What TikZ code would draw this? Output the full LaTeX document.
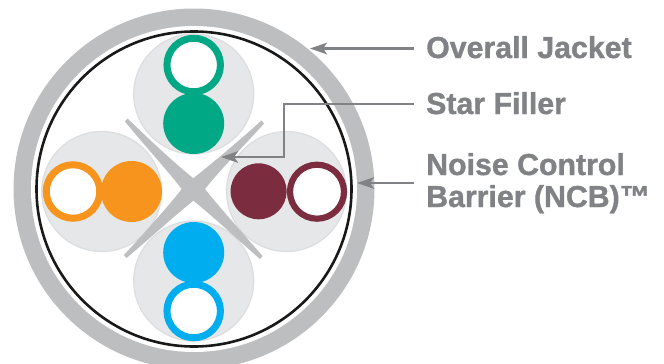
\documentclass[tikz,border=0pt]{standalone}
\usepackage{fontspec}
\setmainfont[BoldFeatures={FakeBold=1.2}]{Liberation Sans}
\usetikzlibrary{arrows.meta,calc}
\definecolor{jacketgrey}{HTML}{BCBEC0}
\definecolor{padfill}{HTML}{E6E7E8}
\definecolor{padedge}{HTML}{DCDDDE}
\definecolor{leadgrey}{HTML}{808285}
\definecolor{cgreen}{HTML}{00A886}
\definecolor{corange}{HTML}{F7941D}
\definecolor{cmaroon}{HTML}{7B2D3F}
\definecolor{cblue}{HTML}{00AEEF}
\tikzset{
  pad/.style={circle,minimum size=120pt,inner sep=0pt,fill=padfill,draw=padedge,line width=1.2pt},
  solidcore/.style={circle,minimum size=61pt,inner sep=0pt,fill=#1},
  ringcore/.style={circle,minimum size=53.5pt,inner sep=0pt,fill=white,draw=#1,line width=7pt},
  labeltext/.style={anchor=base west,inner sep=0pt,text=leadgrey,align=left,
    font=\fontsize{30.3pt}{32pt}\selectfont\bfseries},
  leader/.style={draw=leadgrey,line width=2.6pt,-{Stealth[length=17pt,width=11.5pt,inset=4pt]}}
}
\begin{document}
\begin{tikzpicture}[x=1pt,y=-1pt]
\useasboundingbox (0,0) rectangle (664,364);
\begin{scope}
\clip (0,0) rectangle (664,364);
% jacket
\fill[jacketgrey] (194,189) circle[radius=180.5pt];
\fill[white] (194,189) circle[radius=163pt];
\draw[black!90,line width=2.6pt] (194,189) circle[radius=157.5pt];
% pads
\node[pad] (padT) at (193.7,94) {};
\node[pad] (padL) at (101.7,191.5) {};
\node[pad] (padR) at (286.5,191.5) {};
\node[pad] (padB) at (193.7,281) {};
% star filler
\fill[jacketgrey] (125,121.5) -- (127.5,118.5)
  .. controls (150,140) and (172,161) .. (193.3,178.3)
  .. controls (215,161) and (240,140) .. (261.5,120.5) -- (264,123.5)
  .. controls (243,147) and (220,170) .. (205,189)
  .. controls (220,208) and (242,232) .. (262.5,256) -- (260,259)
  .. controls (238,240) and (215,218) .. (193.3,200.7)
  .. controls (172,218) and (148,240) .. (126.5,258) -- (124,255)
  .. controls (145,232) and (167,208) .. (181.7,189)
  .. controls (167,170) and (145,146) .. (125,121.5) -- cycle;
% conductors
\node[ringcore=cgreen] (ringT) at (193.7,65) {};
\node[solidcore=cgreen] (solidT) at (193.7,123.5) {};
\node[ringcore=corange] (ringL) at (73,191.5) {};
\node[solidcore=corange] (solidL) at (131.5,191.5) {};
\node[solidcore=cmaroon,minimum size=56pt] (solidR) at (258.6,191.3) {};
\node[ringcore=cmaroon,minimum size=54pt,line width=6.2pt] (ringR) at (317,191.7) {};
\node[solidcore=cblue] (solidB) at (193.7,252.5) {};
\node[ringcore=cblue] (ringB) at (193.7,311) {};
\end{scope}
% labels
\node[labeltext] (labJ) at (426,58) {Overall Jacket};
\node[labeltext] (labS) at (426,114) {Star Filler};
\node[labeltext] (labN) at (426,207) {Noise Control\\Barrier (NCB)™};
% leaders
\coordinate (tipJ) at (310,48.5);
\coordinate (tipS) at (221,157);
\coordinate (bendS) at (284,104);
\coordinate (tipN) at (357,183);
\draw[leader] ([xshift=-12pt]tipJ -| labJ.west) -- (tipJ);
\draw[leader] ([xshift=-12pt]bendS -| labS.west) -- (bendS) |- (tipS);
\draw[leader] ([xshift=-12pt]tipN -| labN.west) -- (tipN);
\end{tikzpicture}
\end{document}
